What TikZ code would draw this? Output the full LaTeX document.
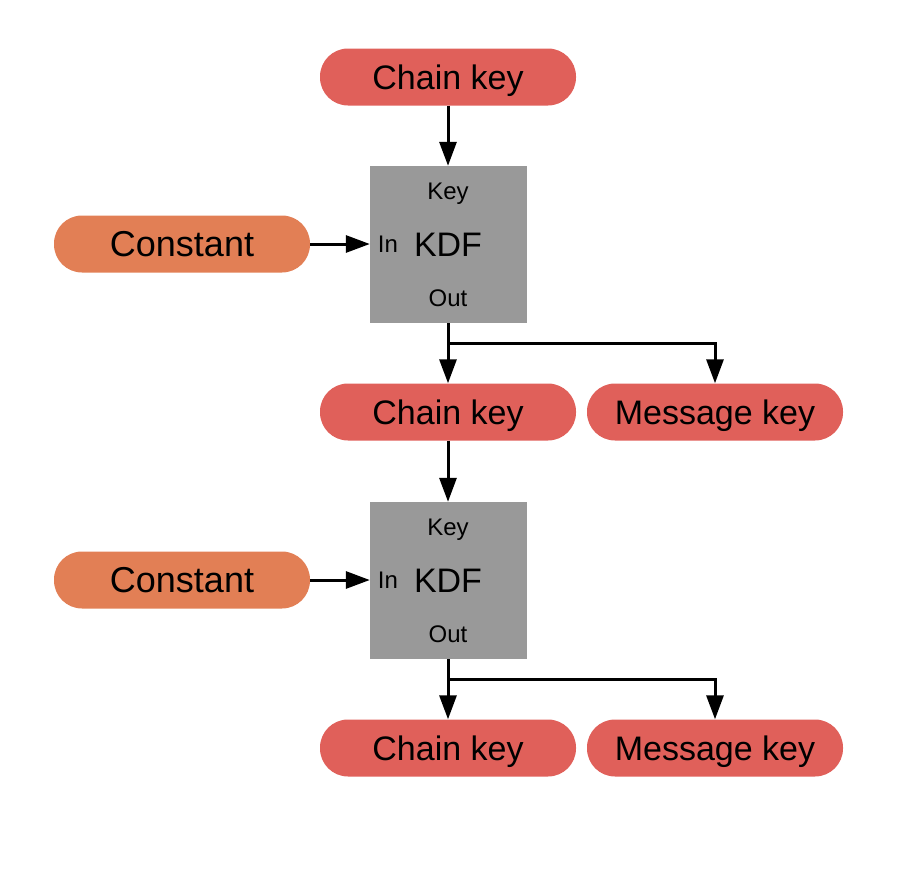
\documentclass[tikz,border=0pt]{standalone}
\usepackage{fontspec}
\setmainfont{Liberation Sans}
\usetikzlibrary{arrows.meta}
\definecolor{keyred}{HTML}{E0605A}
\definecolor{constorange}{HTML}{E27F55}
\definecolor{kdfgray}{HTML}{999999}
\tikzset{
  pill/.style={rectangle, rounded corners=28pt, minimum width=256pt, minimum height=57pt, inner sep=0pt, font=\fontsize{34}{38}\selectfont, text height=24.3pt, text depth=0pt},
  redpill/.style={pill, fill=keyred},
  orangepill/.style={pill, fill=constorange, font=\fontsize{36}{40}\selectfont, text height=25.8pt},
  kdfbox/.style={rectangle, fill=kdfgray, minimum width=157pt, minimum height=157pt, inner sep=0pt},
  small/.style={inner sep=0pt, font=\fontsize{24}{28}\selectfont, text height=17.2pt, text depth=0pt},
  big/.style={inner sep=0pt, font=\fontsize{34}{38}\selectfont, text height=24.3pt, text depth=0pt},
  conn/.style={line width=3pt, -{Triangle[length=24pt,width=17pt]}}
}
\begin{document}
\begin{tikzpicture}[x=1pt,y=-1pt]
\useasboundingbox (0,0) rectangle (916,886);
% top
\node[redpill] (ck1) at (448,77) {Chain key};
\node[kdfbox] (kdf1) at (448.5,244.5) {};
\node[small] (key1) at (448,191) {Key};
\node[small] (in1) at (388,244) {In};
\node[big] (f1) at (448,244) {KDF};
\node[small] (out1) at (448,298) {Out};
\node[orangepill] (c1) at (182,244) {Constant};
\node[redpill] (ck2) at (448,412) {Chain key};
\node[redpill] (mk2) at (715,412) {Message key};
\coordinate (b1) at (448,343);
% second
\node[kdfbox] (kdf2) at (448.5,580.5) {};
\node[small] (key2) at (448,527) {Key};
\node[small] (in2) at (388,580) {In};
\node[big] (f2) at (448,580) {KDF};
\node[small] (out2) at (448,634) {Out};
\node[orangepill] (c2) at (182,580) {Constant};
\node[redpill] (ck3) at (448,748) {Chain key};
\node[redpill] (mk3) at (715,748) {Message key};
\coordinate (b2) at (448,679);
% connectors
\draw[conn] (ck1.south) -- (ck1.south |- kdf1.north);
\draw[conn] (c1.east) -- (kdf1.west |- c1.east);
\draw[conn] (kdf1.south -| ck2.north) -- (ck2.north);
\draw[conn] (b1) -| (mk2.north);
\draw[conn] (ck2.south) -- (ck2.south |- kdf2.north);
\draw[conn] (c2.east) -- (kdf2.west |- c2.east);
\draw[conn] (kdf2.south -| ck3.north) -- (ck3.north);
\draw[conn] (b2) -| (mk3.north);
\end{tikzpicture}
\end{document}
